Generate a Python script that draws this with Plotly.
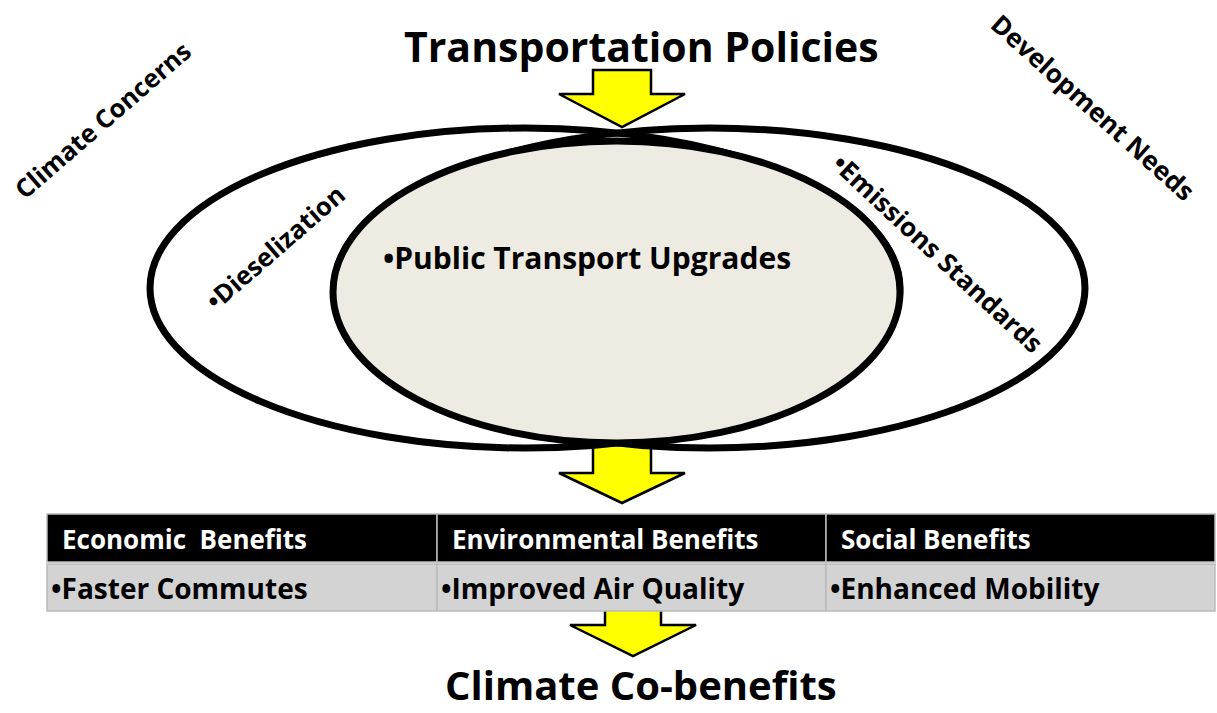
import plotly.graph_objects as go

# ---- content ----
title_top = "Transportation Policies"
title_bottom = "Climate Co-benefits"
side_labels = ["Climate Concerns", "Development Needs"]
venn_labels = ["•Dieselization", "•Public Transport Upgrades", "•Emissions Standards"]
benefit_headers = ["Economic  Benefits", "Environmental Benefits", "Social Benefits"]
benefit_items = ["•Faster Commutes", "•Improved Air Quality", "•Enhanced Mobility"]

W, H = 1217, 713
FONT = "Open Sans"
shapes = []
annotations = []

def arrow(xc, shaft_half, head_half, y_top, y_head, y_tip):
    p = (f"M {xc-shaft_half} {y_top} L {xc+shaft_half} {y_top} L {xc+shaft_half} {y_head} "
         f"L {xc+head_half} {y_head} L {xc} {y_tip} L {xc-head_half} {y_head} "
         f"L {xc-shaft_half} {y_head} Z")
    return dict(type="path", path=p, fillcolor="#FFFF00",
                line=dict(color="black", width=2.5), xref="x", yref="y")

# arrows (drawn beneath ellipses / table)
shapes.append(arrow(622, 29, 63, 70, 94, 127))
shapes.append(arrow(622, 29, 63, 440, 473, 503))
shapes.append(arrow(633, 28, 63, 600, 625, 656))

# outer ellipses
shapes.append(dict(type="circle", x0=150, x1=900, y0=128, y1=448,
                   line=dict(color="black", width=7), fillcolor="rgba(0,0,0,0)"))
shapes.append(dict(type="circle", x0=334, x1=1085, y0=128, y1=448,
                   line=dict(color="black", width=7), fillcolor="rgba(0,0,0,0)"))
# shaded inner ellipse
shapes.append(dict(type="circle", x0=333, x1=900, y0=141, y1=443,
                   line=dict(color="black", width=7), fillcolor="#EEEBE3"))

# table
col_x = [47, 437, 826, 1215]
hdr_y0, hdr_y1, body_y1 = 514, 562, 611
for i in range(3):
    shapes.append(dict(type="rect", x0=col_x[i], x1=col_x[i+1], y0=hdr_y0, y1=hdr_y1,
                       fillcolor="black", line=dict(color="#BBBBBB", width=1.5)))
    shapes.append(dict(type="rect", x0=col_x[i], x1=col_x[i+1], y0=hdr_y1 + 2, y1=body_y1,
                       fillcolor="#D3D3D3", line=dict(color="#BBBBBB", width=1.5)))
    annotations.append(dict(x=col_x[i] + 13, y=(hdr_y0 + hdr_y1) / 2 + 1,
                            text=f"<b>{benefit_headers[i]}</b>", xanchor="left",
                            yanchor="middle", showarrow=False,
                            font=dict(family=FONT, size=26, color="white")))
    annotations.append(dict(x=col_x[i] + 2, y=(hdr_y1 + body_y1) / 2 + 1,
                            text=f"<b>{benefit_items[i]}</b>", xanchor="left",
                            yanchor="middle", showarrow=False,
                            font=dict(family=FONT, size=28, color="black")))

# titles
annotations.append(dict(x=641, y=46, text=f"<b>{title_top}</b>", showarrow=False,
                        xanchor="center", yanchor="middle",
                        font=dict(family=FONT, size=41, color="black")))
annotations.append(dict(x=641, y=684, text=f"<b>{title_bottom}</b>", showarrow=False,
                        xanchor="center", yanchor="middle",
                        font=dict(family=FONT, size=40, color="black")))

# rotated side labels
annotations.append(dict(x=102, y=120, text=f"<b>{side_labels[0]}</b>", textangle=-41,
                        showarrow=False, font=dict(family=FONT, size=25.5, color="black")))
annotations.append(dict(x=1093, y=107, text=f"<b>{side_labels[1]}</b>", textangle=42,
                        showarrow=False, font=dict(family=FONT, size=26, color="black")))

# venn labels
annotations.append(dict(x=275, y=247, text=f"<b>{venn_labels[0]}</b>", textangle=-41,
                        showarrow=False, font=dict(family=FONT, size=25.5, color="black")))
annotations.append(dict(x=587, y=257, text=f"<b>{venn_labels[1]}</b>",
                        showarrow=False, font=dict(family=FONT, size=30, color="black")))
annotations.append(dict(x=938, y=253, text=f"<b>{venn_labels[2]}</b>", textangle=43,
                        showarrow=False, font=dict(family=FONT, size=26, color="black")))

fig = go.Figure()
fig.update_layout(
    width=W, height=H, margin=dict(l=0, r=0, t=0, b=0),
    paper_bgcolor="white", plot_bgcolor="white",
    xaxis=dict(range=[0, W], visible=False, fixedrange=True),
    yaxis=dict(range=[H, 0], visible=False, fixedrange=True),
    shapes=shapes, annotations=annotations, showlegend=False,
)
fig.write_html("out.html", config={"displayModeBar": False},
               post_script="document.body.style.margin='0';document.body.style.overflow='hidden';")
